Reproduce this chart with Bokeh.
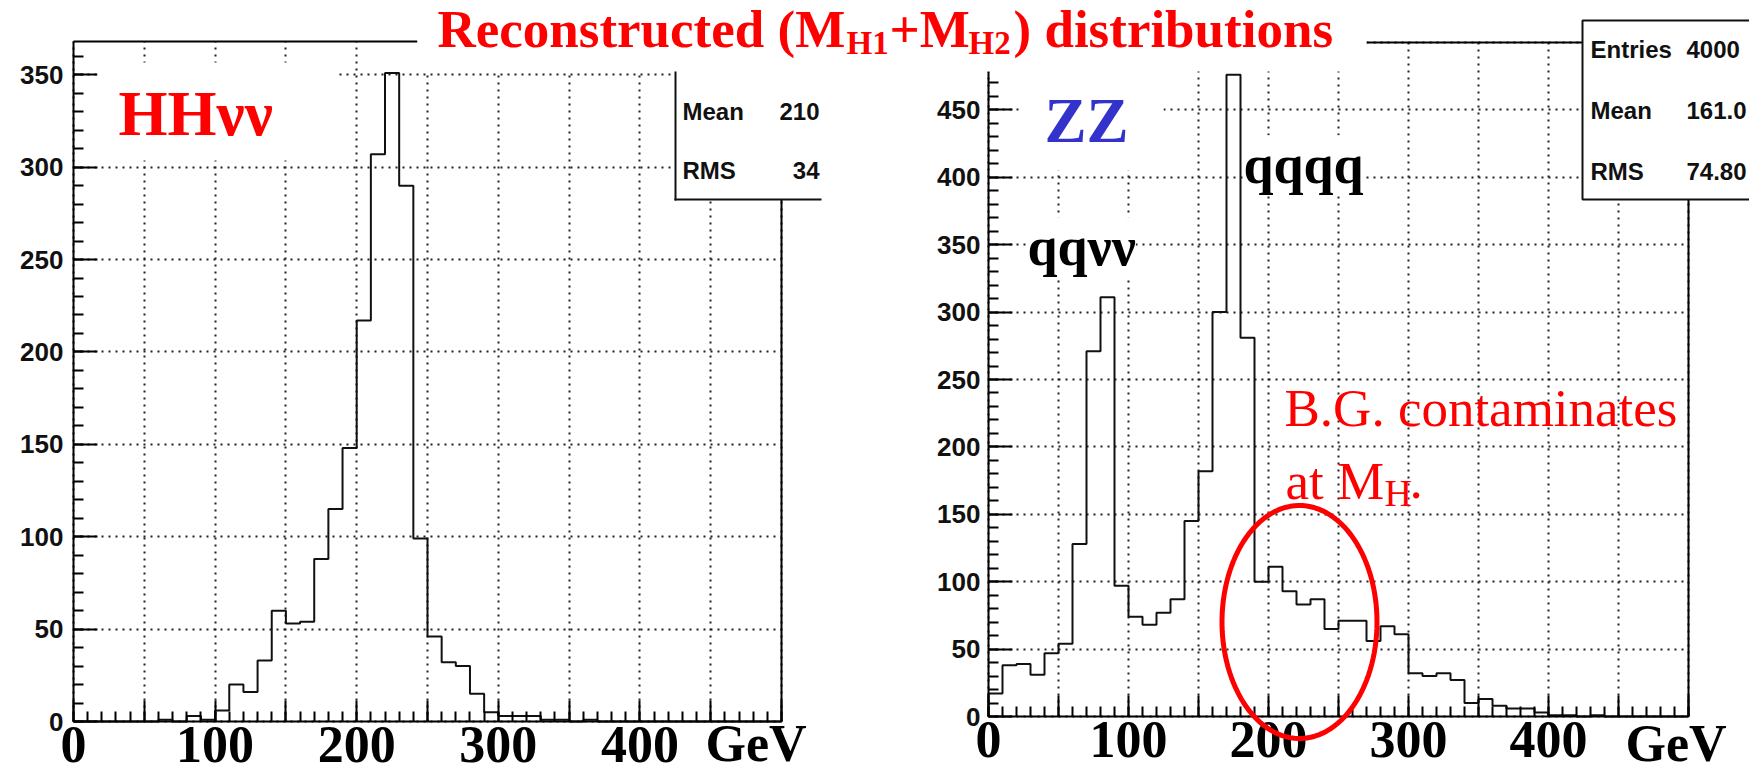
import numpy as np
from bokeh.plotting import figure
from bokeh.models import (Range1d, LinearAxis, FixedTicker, SingleIntervalTicker, Grid,
                          Label, BoxAnnotation, PolyAnnotation)
from bokeh.layouts import row
from bokeh.embed import file_html
from bokeh.resources import INLINE

# ------------------------------------------------------------------ data
BIN_WIDTH = 10          # GeV per bin
X_MIN, X_MAX = 0, 500   # GeV
HH_COUNTS = [0, 0, 0, 0, 0, 0, 1, 0, 3, 1,
             6, 20, 16, 33, 60, 53, 54, 88, 115, 148,
             217, 307, 351, 290, 99, 46, 32, 30, 15, 5,
             3, 3, 3, 1, 1, 0, 1, 0, 0, 0,
             0, 0, 0, 0, 0, 0, 0, 0, 0, 0]
ZZ_COUNTS = [17, 38, 39, 31, 47, 54, 128, 271, 311, 97,
             74, 68, 77, 87, 145, 182, 300, 476, 281, 100,
             111, 93, 83, 87, 65, 71, 71, 56, 67, 61,
             32, 30, 32, 27, 10, 13, 8, 6, 6, 3,
             1, 1, 0, 1, 0, 0, 0, 0, 0, 0]
HH_Y_MAX = 368
ZZ_Y_MAX = 500
X_MAJOR = list(range(0, 501, 50))
X_MINOR = list(range(0, 501, 10))
X_TICK_LABELS = {0: "0", 100: "100", 200: "200", 300: "300", 400: "400"}
X_UNIT = "GeV"
HH_STATS = [("Mean", "210"), ("RMS", "34")]
ZZ_STATS = [("Entries", "4000"), ("Mean", "161.0"), ("RMS", "74.80")]
TITLE_PARTS = ["Reconstructed (M", "H1", "+M", "H2", ") distributions"]
HH_NAME = "HHνν"
ZZ_NAME = "ZZ"
ZZ_PEAKS = ["qqνν", "qqqq"]
NOTE_LINE1 = "B.G. contaminates"
NOTE_LINE2 = ["at M", "H", "."]

# ------------------------------------------------------------------ layout (page pixels)
WIN_H = 773
L_OFF, L_W = 0, 889
L_FR = dict(left=73, right=781, top=41, bottom=721)
R_OFF, R_W = 889, 860
R_FR = dict(left=988, right=1688, top=42, bottom=716)

SERIF = "Liberation Serif"
SANS = "Liberation Sans"
RED = "#FF0000"
BLUE = "#3333CC"
INK = "#111111"


class Conv:
    """page pixel -> data coordinate for one panel"""
    def __init__(self, fr, xr, yr):
        self.fr, self.xr, self.yr = fr, xr, yr

    def x(self, px):
        fr, xr = self.fr, self.xr
        return xr[0] + (px - fr["left"]) * (xr[1] - xr[0]) / (fr["right"] - fr["left"])

    def y(self, py):
        fr, yr = self.fr, self.yr
        return yr[0] + (fr["bottom"] - py) * (yr[1] - yr[0]) / (fr["bottom"] - fr["top"])


def style_axis(ax, tick_in):
    ax.major_tick_in = tick_in
    ax.major_tick_out = 0
    ax.minor_tick_in = 10
    ax.minor_tick_out = 0
    ax.axis_line_width = 2
    ax.axis_line_color = "black"
    ax.major_tick_line_width = 2
    ax.minor_tick_line_width = 2
    ax.major_tick_line_color = "black"
    ax.minor_tick_line_color = "black"


def frame_axis(p, side, loc, bounds):
    ax = LinearAxis(ticker=FixedTicker(ticks=[]), bounds=bounds, fixed_location=loc,
                    major_tick_in=0, major_tick_out=0, minor_tick_in=0, minor_tick_out=0,
                    major_label_text_font_size="0px", major_label_standoff=0,
                    axis_line_width=2, axis_line_color="black")
    p.add_layout(ax, side)


def make_panel(counts, ymax, off, width, fr, ylab_standoff):
    cv = Conv(fr, (X_MIN, X_MAX), (0, ymax))
    p = figure(width=width, height=WIN_H,
               x_range=Range1d(cv.x(off), cv.x(off + width)),
               y_range=Range1d(cv.y(WIN_H), cv.y(0)),
               x_axis_type=None, y_axis_type=None, title=None,
               output_backend="svg", toolbar_location=None,
               min_border=0, min_border_left=0, min_border_right=0,
               min_border_top=0, min_border_bottom=0,
               outline_line_color=None,
               background_fill_color="white", border_fill_color="white")

    # axes (drawn at the panel edges)
    xt = FixedTicker(ticks=X_MAJOR, minor_ticks=X_MINOR)
    xax = LinearAxis(ticker=xt, fixed_location=0, bounds=(X_MIN, X_MAX))
    xax.major_label_overrides = {t: X_TICK_LABELS.get(t, "") for t in X_MAJOR}
    xax.major_label_text_font = SERIF
    xax.major_label_text_font_style = "bold"
    xax.major_label_text_font_size = "52px"
    xax.major_label_text_color = "black"
    xax.major_label_standoff = 5
    style_axis(xax, 21)
    p.add_layout(xax, "below")

    yt = SingleIntervalTicker(interval=50, num_minor_ticks=5)
    yax = LinearAxis(ticker=yt, fixed_location=X_MIN, bounds=(0, ymax))
    yax.major_label_text_font = SANS
    yax.major_label_text_font_style = "bold"
    yax.major_label_text_font_size = "26px"
    yax.major_label_text_color = INK
    yax.major_label_standoff = ylab_standoff
    style_axis(yax, 24)
    p.add_layout(yax, "left")

    # dotted grid restricted to the panel
    has_cross = "cross_bounds" in Grid.properties()
    for dim, tk, b, cb in ((0, xt, (X_MIN, X_MAX), (0, ymax)),
                           (1, yt, (0, ymax), (X_MIN, X_MAX))):
        if has_cross:
            g = Grid(dimension=dim, ticker=tk, bounds=b, cross_bounds=cb,
                     grid_line_color="#222222", grid_line_width=2, grid_line_dash="2 5")
            p.add_layout(g)
    if not has_cross:
        ys_major = list(range(0, ymax + 1, 50))
        p.segment(x0=X_MAJOR, y0=[0] * len(X_MAJOR), x1=X_MAJOR, y1=[ymax] * len(X_MAJOR),
                  line_color="#222222", line_width=2, line_dash="2 5", level="underlay")
        p.segment(x0=[X_MIN] * len(ys_major), y0=ys_major, x1=[X_MAX] * len(ys_major), y1=ys_major,
                  line_color="#222222", line_width=2, line_dash="2 5", level="underlay")

    # histogram outline
    edges = [X_MIN + i * BIN_WIDTH for i in range(len(counts) + 1)]
    xs = [edges[0]] + edges
    ys = [0] + list(counts) + [0]
    p.step(xs, ys, mode="after", line_color=INK, line_width=2)
    return p, cv


def box(p, cv, l, r, t, b, fill="white", line=None):
    p.add_layout(BoxAnnotation(left=cv.x(l), right=cv.x(r), top=cv.y(t), bottom=cv.y(b),
                               fill_color=fill, fill_alpha=1.0,
                               line_color=line, line_width=2, line_alpha=1.0))


def label(p, cv, px, py, text, size, color="black", font=SERIF, style="bold",
          align="left", bg=None):
    # py is the baseline (page pixels); the label is anchored on the text middle
    k = 0.3465 if font == SANS else 0.3375
    p.add_layout(Label(x=cv.x(px), y=cv.y(py - k * size), text=text, text_font=font,
                       text_font_size=f"{size}px", text_font_style=style,
                       text_color=color, text_align=align, text_baseline="middle",
                       background_fill_color=bg, background_fill_alpha=1.0 if bg else 0))


# ------------------------------------------------------------------ left panel
p1, c1 = make_panel(HH_COUNTS, HH_Y_MAX, L_OFF, L_W, L_FR, 10)
frame_axis(p1, "above", HH_Y_MAX, (X_MIN, c1.x(417)))
frame_axis(p1, "right", X_MAX, (0, c1.y(199)))

box(p1, c1, 97, 338, 62, 160)                            # HHvv text box
box(p1, c1, 675, 821, 20, 199)                           # stats box (cut at 821)
box(p1, c1, 674, 676, 20, 200, fill="#111111")           # stats box left edge
box(p1, c1, 674, 821, 198, 200, fill="#111111")          # stats box bottom edge
box(p1, c1, 417, 960, -20, 71)                           # title text box

label(p1, c1, 437, 46, TITLE_PARTS[0], 53, RED)
label(p1, c1, 846, 54, TITLE_PARTS[1], 33, RED)
label(p1, c1, 118, 135, HH_NAME, 63, RED)
for i, (k, v) in enumerate(HH_STATS):
    yb = 119 + i * 59
    label(p1, c1, 682, yb, k, 24, INK, SANS)
    label(p1, c1, 819, yb, v, 24, INK, SANS, align="right")
label(p1, c1, 705, 761, X_UNIT, 52)

# ------------------------------------------------------------------ right panel
p2, c2 = make_panel(ZZ_COUNTS, ZZ_Y_MAX, R_OFF, R_W, R_FR, 8)
p2.left[0].bounds = (0, c2.y(71))
frame_axis(p2, "above", ZZ_Y_MAX, (c2.x(1366), c2.x(1582)))
frame_axis(p2, "right", X_MAX, (0, c2.y(199)))

box(p2, c2, 1022, 1163, 60, 170)                         # ZZ text box
box(p2, c2, 860, 1366, -20, 71)                          # title text box
box(p2, c2, 1582, 1800, 20, 199, line="#111111")         # stats box

label(p2, c2, 889, 46, TITLE_PARTS[2], 53, RED)
label(p2, c2, 968, 54, TITLE_PARTS[3], 33, RED)
label(p2, c2, 1013, 46, TITLE_PARTS[4], 53, RED)
label(p2, c2, 1044, 142, ZZ_NAME, 63, BLUE)
label(p2, c2, 1027, 265, ZZ_PEAKS[0], 54, bg="white")
label(p2, c2, 1243, 183, ZZ_PEAKS[1], 54, bg="white")
label(p2, c2, 1284, 425, NOTE_LINE1, 53, RED, style="normal")
label(p2, c2, 1285, 498, NOTE_LINE2[0], 53, RED, style="normal")
label(p2, c2, 1384, 505, NOTE_LINE2[1], 38, RED, style="normal")
label(p2, c2, 1409, 498, NOTE_LINE2[2], 53, RED, style="normal")
for i, (k, v) in enumerate(ZZ_STATS):
    yb = 57 + i * 61
    label(p2, c2, 1590, yb, k, 24, INK, SANS)
    label(p2, c2, 1686, yb, v, 24, INK, SANS)
label(p2, c2, 1625, 761, X_UNIT, 52)

# hand-drawn ellipse around the M_H region
t = np.linspace(0, 2 * np.pi, 120)
ecx, ecy, ea, eb = 1299, 621.5, 77.5, 116.5
p2.add_layout(PolyAnnotation(xs=[c2.x(ecx + ea * np.cos(a)) for a in t],
                             ys=[c2.y(ecy + eb * np.sin(a)) for a in t],
                             fill_color=None, fill_alpha=0,
                             line_color=RED, line_alpha=1.0, line_width=5))

layout = row(p1, p2)
open("out.html", "w").write(file_html(layout, INLINE))
